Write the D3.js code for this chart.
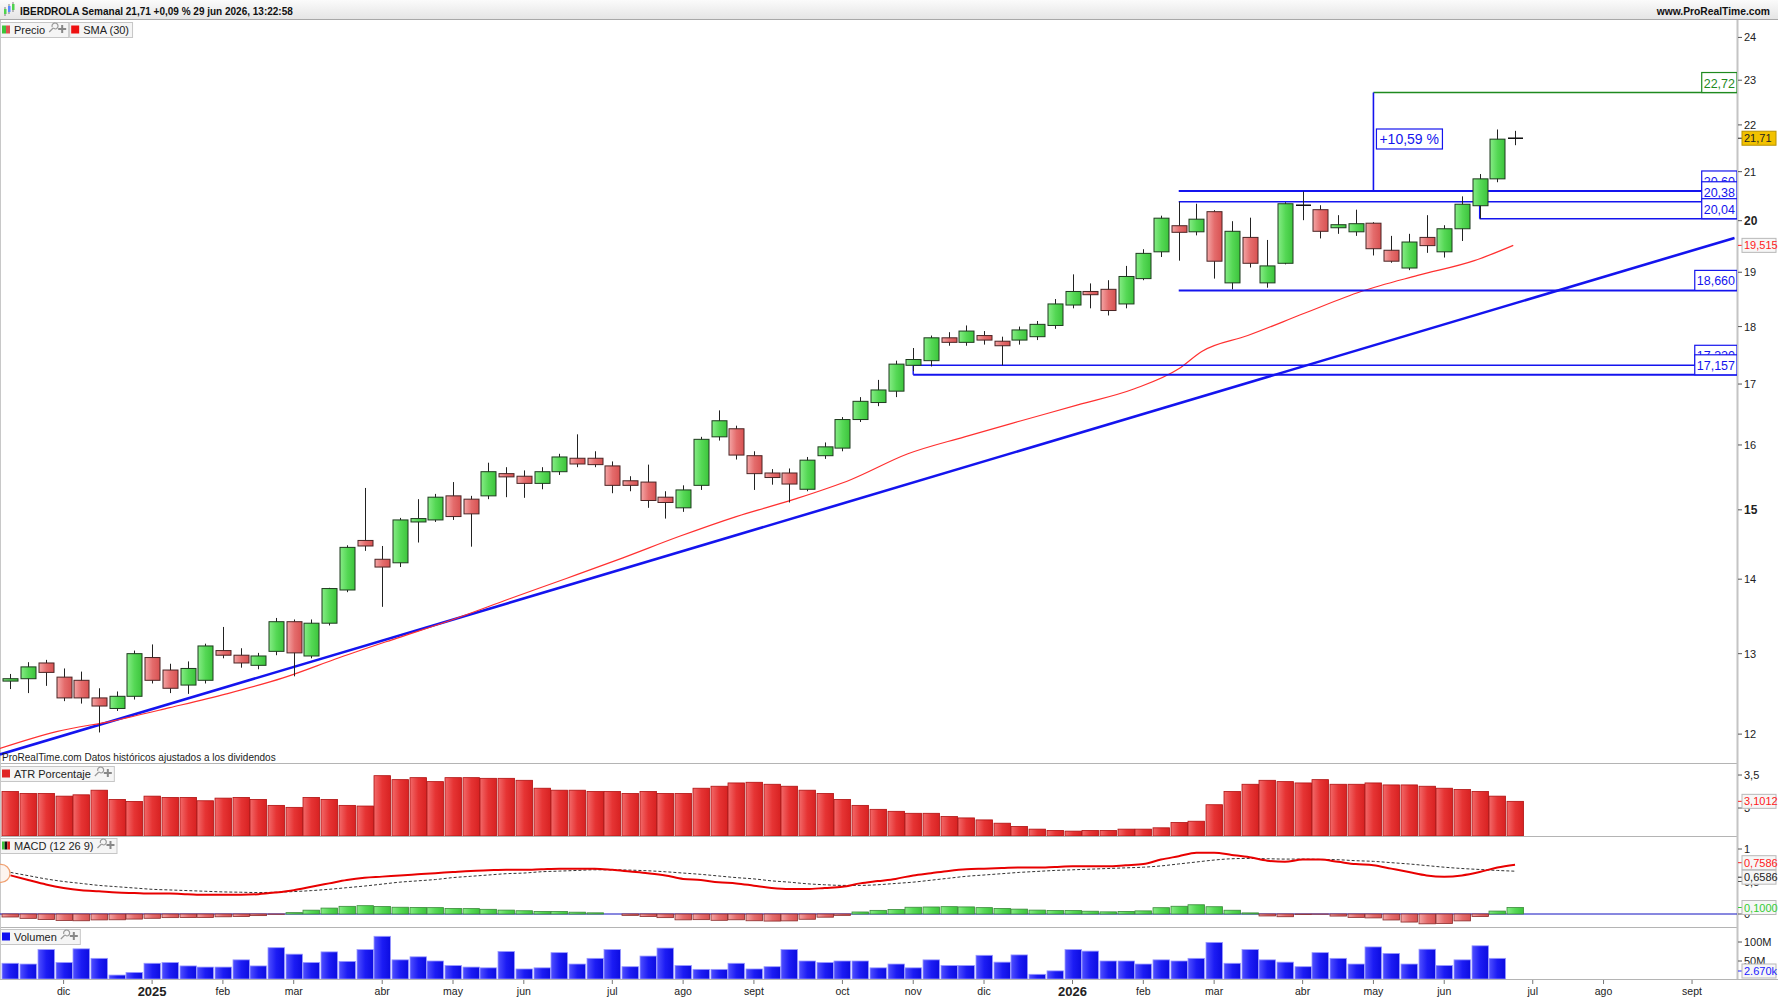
<!DOCTYPE html>
<html>
<head>
<meta charset="utf-8">
<script src="https://cdn.jsdelivr.net/npm/d3@7"></script>
<style>
body { margin: 0; background: #fff; }
svg { display: block; font-family: "Liberation Sans", Arial, sans-serif; }
</style>
</head>
<body>
<div id="chart"></div>
<script>
// ---- data (weekly bars, first bar = week of 11 nov 2024) ----
const startDate = new Date(2024, 10, 11);
const monthNames = ["ene", "feb", "mar", "abr", "may", "jun", "jul", "ago", "sept", "oct", "nov", "dic"];

const open = [12.65, 12.68, 12.88, 12.70, 12.66, 12.44, 12.31, 12.46, 12.95, 12.79,
	12.60, 12.66, 13.04, 12.98, 12.85, 13.03, 13.42, 12.97, 13.40, 13.85,
	14.55, 14.28, 14.23, 14.82, 14.85, 15.21, 15.16, 15.21, 15.55, 15.51,
	15.40, 15.58, 15.79, 15.79, 15.67, 15.44, 15.42, 15.19, 15.03, 15.37,
	16.13, 16.26, 15.83, 15.56, 15.56, 15.31, 15.83, 15.95, 16.41, 16.69,
	16.88, 17.32, 17.40, 17.80, 17.72, 17.84, 17.74, 17.76, 17.82, 18.02,
	18.39, 18.64, 18.68, 18.41, 18.88, 19.39, 19.90, 19.78, 20.18, 18.80,
	19.67, 18.80, 19.17, 20.32, 20.22, 19.86, 19.78, 19.95, 19.42, 19.08,
	19.67, 19.39, 19.84, 20.30, 20.85, 21.70];
const high = [12.74, 12.89, 12.92, 12.81, 12.77, 12.56, 12.52, 13.04, 13.12, 12.87,
	12.90, 13.13, 13.35, 13.07, 13.01, 13.47, 13.45, 13.45, 13.88, 14.48,
	15.33, 14.47, 14.88, 15.16, 15.24, 15.42, 15.21, 15.72, 15.65, 15.60,
	15.65, 15.86, 16.17, 15.90, 15.74, 15.51, 15.69, 15.28, 15.37, 16.13,
	16.56, 16.31, 15.90, 15.62, 15.63, 15.81, 16.04, 16.45, 16.78, 17.07,
	17.40, 17.62, 17.84, 17.90, 18.02, 17.92, 17.82, 18.00, 18.10, 18.50,
	18.96, 18.79, 18.85, 19.12, 19.44, 20.10, 20.38, 20.34, 20.21, 19.99,
	20.06, 19.62, 20.37, 20.59, 20.31, 20.11, 20.22, 19.97, 19.70, 19.74,
	20.11, 19.91, 20.49, 20.95, 21.90, 21.87];
const low = [12.55, 12.50, 12.59, 12.40, 12.37, 12.02, 12.28, 12.42, 12.62, 12.50,
	12.49, 12.62, 12.94, 12.82, 12.80, 12.98, 12.71, 12.94, 13.37, 13.82,
	14.40, 13.62, 14.17, 14.52, 14.82, 14.85, 14.46, 15.16, 15.19, 15.18,
	15.31, 15.53, 15.65, 15.65, 15.25, 15.28, 15.03, 14.87, 14.97, 15.30,
	16.07, 15.77, 15.30, 15.38, 15.11, 15.28, 15.78, 15.90, 16.37, 16.63,
	16.78, 17.22, 17.30, 17.66, 17.66, 17.68, 17.32, 17.68, 17.76, 17.96,
	18.33, 18.33, 18.20, 18.33, 18.85, 19.29, 19.22, 19.71, 18.88, 18.68,
	19.09, 18.71, 19.15, 20.01, 19.65, 19.74, 19.70, 19.32, 19.18, 19.04,
	19.37, 19.28, 19.60, 20.04, 20.78, 21.56];
const close = [12.68, 12.83, 12.76, 12.44, 12.44, 12.34, 12.46, 13.00, 12.66, 12.56,
	12.81, 13.10, 12.98, 12.88, 12.97, 13.42, 13.01, 13.40, 13.87, 14.45,
	14.47, 14.17, 14.85, 14.87, 15.19, 14.90, 14.94, 15.58, 15.50, 15.40,
	15.58, 15.81, 15.70, 15.69, 15.37, 15.37, 15.14, 15.11, 15.30, 16.09,
	16.39, 15.84, 15.55, 15.49, 15.39, 15.76, 15.97, 16.41, 16.71, 16.90,
	17.34, 17.42, 17.80, 17.72, 17.92, 17.76, 17.66, 17.94, 18.04, 18.41,
	18.64, 18.58, 18.29, 18.92, 19.36, 20.05, 19.77, 20.03, 19.21, 19.79,
	19.17, 19.12, 20.34, 20.31, 19.79, 19.92, 19.94, 19.45, 19.21, 19.58,
	19.51, 19.84, 20.33, 20.85, 21.69, 21.71];

// SMA(30) at a few bar positions
const smaIdx = [-0.6, 2.6, 5.8, 9.0, 12.2, 15.4, 18.6, 21.8, 25.0, 28.2, 31.4, 34.6, 37.8, 41.0, 44.3,
	47.5, 50.7, 53.9, 57.1, 60.3, 63.5, 66.0, 67.3, 69.9, 73.1, 76.3, 79.5, 82.7, 84.9];
const smaVal = [11.83, 12.03, 12.16, 12.32, 12.49, 12.69, 12.95, 13.20, 13.45, 13.73, 14.01, 14.30, 14.61, 14.90, 15.16,
	15.46, 15.86, 16.13, 16.39, 16.65, 16.92, 17.26, 17.56, 17.84, 18.24, 18.64, 18.94, 19.22, 19.515];

// drawn objects
const trendIdx = [-0.6, 97.4];
const trendVal = [11.76, 19.66];
const levelValues = [22.72, 20.60, 20.38, 20.04, 18.66, 17.32, 17.157];
const levelLabels = ["22,72", "20,60", "20,38", "20,04", "18,660", "17,320", "17,157"];
const levelStart = [77, 66, 66, 83, 66, 51, 51];
const moveLabel = "+10,59 %";

const atr = [3.25, 3.22, 3.22, 3.18, 3.20, 3.27, 3.13, 3.10, 3.18, 3.16,
	3.16, 3.11, 3.15, 3.16, 3.13, 3.04, 3.01, 3.16, 3.13, 3.04,
	3.03, 3.49, 3.43, 3.46, 3.40, 3.46, 3.46, 3.45, 3.45, 3.42,
	3.30, 3.27, 3.27, 3.25, 3.25, 3.22, 3.25, 3.22, 3.22, 3.30,
	3.33, 3.38, 3.39, 3.36, 3.33, 3.27, 3.22, 3.13, 3.04, 2.98,
	2.95, 2.92, 2.92, 2.87, 2.85, 2.82, 2.77, 2.72, 2.68, 2.66,
	2.65, 2.66, 2.66, 2.68, 2.68, 2.70, 2.78, 2.80, 3.05, 3.25,
	3.36, 3.42, 3.40, 3.38, 3.43, 3.36, 3.36, 3.38, 3.35, 3.35,
	3.33, 3.30, 3.28, 3.25, 3.18, 3.1012];

const macd = [0.594, 0.523, 0.454, 0.401, 0.366, 0.349, 0.331, 0.322, 0.314, 0.314,
	0.305, 0.297, 0.297, 0.297, 0.305, 0.331, 0.366, 0.419, 0.471, 0.523,
	0.558, 0.575, 0.594, 0.611, 0.628, 0.646, 0.663, 0.672, 0.680, 0.680,
	0.689, 0.698, 0.698, 0.698, 0.680, 0.654, 0.628, 0.594, 0.540, 0.523,
	0.488, 0.471, 0.436, 0.401, 0.384, 0.384, 0.401, 0.419, 0.471, 0.506,
	0.540, 0.594, 0.628, 0.663, 0.689, 0.698, 0.706, 0.715, 0.715, 0.724,
	0.733, 0.733, 0.733, 0.750, 0.768, 0.837, 0.889, 0.942, 0.942, 0.908,
	0.872, 0.820, 0.803, 0.837, 0.837, 0.803, 0.768, 0.750, 0.698, 0.646,
	0.594, 0.575, 0.594, 0.646, 0.715, 0.7586];
const signal = [0.64, 0.59, 0.54, 0.50, 0.47, 0.44, 0.42, 0.40, 0.38, 0.37,
	0.36, 0.35, 0.34, 0.335, 0.33, 0.335, 0.345, 0.36, 0.38, 0.405,
	0.43, 0.46, 0.49, 0.51, 0.53, 0.56, 0.58, 0.60, 0.62, 0.63,
	0.65, 0.66, 0.67, 0.68, 0.68, 0.675, 0.665, 0.65, 0.63, 0.61,
	0.585, 0.56, 0.54, 0.51, 0.49, 0.465, 0.45, 0.44, 0.44, 0.45,
	0.47, 0.49, 0.52, 0.55, 0.58, 0.60, 0.62, 0.64, 0.655, 0.67,
	0.68, 0.69, 0.70, 0.71, 0.72, 0.74, 0.77, 0.80, 0.83, 0.85,
	0.855, 0.85, 0.845, 0.845, 0.84, 0.835, 0.82, 0.81, 0.79, 0.77,
	0.745, 0.72, 0.70, 0.685, 0.67, 0.6586];

const volume = [44e6, 42e6, 80e6, 46e6, 82e6, 57e6, 13e6, 20e6, 44e6, 46e6,
	37e6, 34e6, 34e6, 53e6, 37e6, 85e6, 68e6, 46e6, 74e6, 49e6,
	80e6, 115e6, 53e6, 61e6, 50e6, 38e6, 34e6, 32e6, 75e6, 29e6,
	32e6, 72e6, 42e6, 57e6, 80e6, 35e6, 63e6, 84e6, 38e6, 28e6,
	28e6, 44e6, 29e6, 35e6, 80e6, 50e6, 46e6, 50e6, 50e6, 32e6,
	42e6, 32e6, 53e6, 38e6, 38e6, 65e6, 47e6, 66e6, 15e6, 24e6,
	80e6, 76e6, 50e6, 50e6, 42e6, 53e6, 50e6, 57e6, 99e6, 44e6,
	80e6, 53e6, 47e6, 35e6, 72e6, 57e6, 42e6, 87e6, 70e6, 42e6,
	81e6, 38e6, 53e6, 90e6, 57e6, 2670];

const priceTicks = [12, 13, 14, 15, 16, 17, 18, 19, 20, 21, 22, 23, 24];
const atrTicks = [3, 3.5];
const macdTicks = [0, 0.5, 1];
const volTicks = [50e6, 100e6];

// ---- layout ----
const W = 1778, H = 1000;
const axisX = 1737;
const nBars = 98;
const pricePanel = [20, 763], atrPanel = [764, 836], macdPanel = [836, 927], volPanel = [927, 979];
const blue = "#1414ee";

const x = d3.scaleLinear().domain([-0.593, 97.54]).range([0, axisX]);
const y = d3.scaleLog().domain([11.66, 24.42]).range([pricePanel[1], pricePanel[0]]);
const yAtr = d3.scaleLinear().domain([2.576, 3.667]).range([atrPanel[1], atrPanel[0]]);
const yMacd = d3.scaleLinear().domain([-0.2, 1.2]).range([macdPanel[1], macdPanel[0]]);
const yVol = d3.scaleLinear().domain([0, 100e6]).range([980, 942]);
const fmt = (v, d) => v.toFixed(d).replace(".", ",");

const svg = d3.select("#chart").append("svg").attr("width", W).attr("height", H);
const defs = svg.append("defs");
function grad(id, colors, vertical) {
	const g = defs.append("linearGradient").attr("id", id)
		.attr("x1", 0).attr("y1", 0).attr("x2", vertical ? 0 : 1).attr("y2", vertical ? 1 : 0);
	colors.forEach((c, i) => g.append("stop").attr("offset", i / (colors.length - 1)).attr("stop-color", c));
}
grad("gUp", ["#86ec86", "#55d855", "#3cc43c"]);
grad("gDown", ["#f4a6a6", "#e46c6c", "#d85252"]);
grad("gAtr", ["#f26a6a", "#e63434", "#d82222"]);
grad("gVol", ["#5050ff", "#1c1cf4", "#0c0ce0"]);
grad("gHead", ["#fbfbfb", "#e4e4e4"], true);
[["cPrice", pricePanel], ["cAtr", atrPanel], ["cMacd", macdPanel], ["cVol", volPanel]].forEach(([id, p]) =>
	defs.append("clipPath").attr("id", id).append("rect")
		.attr("x", 0).attr("y", p[0]).attr("width", axisX).attr("height", p[1] - p[0]));

const bars = open.map((o, i) => ({i, o, h: high[i], l: low[i], c: close[i]}));
const bw = 15;

// ---- frame ----
svg.append("rect").attr("width", W).attr("height", 20).attr("fill", "url(#gHead)");
svg.append("line").attr("x1", 0).attr("x2", W).attr("y1", 19.5).attr("y2", 19.5).attr("stroke", "#a8a8a8");
[pricePanel[1], atrPanel[1], macdPanel[1]].forEach(v =>
	svg.append("line").attr("x1", 0).attr("x2", axisX).attr("y1", v + 0.5).attr("y2", v + 0.5).attr("stroke", "#b4b4b4"));
svg.append("line").attr("x1", 0).attr("x2", W).attr("y1", volPanel[1] + 0.5).attr("y2", volPanel[1] + 0.5).attr("stroke", "#b4b4b4");
svg.append("line").attr("x1", axisX + 0.5).attr("x2", axisX + 0.5).attr("y1", 20).attr("y2", volPanel[1]).attr("stroke", "#c4c4c4").attr("stroke-width", 2);
svg.append("line").attr("x1", 0.5).attr("x2", 0.5).attr("y1", 20).attr("y2", volPanel[1]).attr("stroke", "#c8c8c8");

// header
const icon = svg.append("g");
[[4, 8, 14, "#4fd24f"], [8, 5, 12, "#5a8cff"], [12, 3, 10, "#4fd24f"]].forEach(([cx, t, b, c]) => {
	icon.append("line").attr("x1", cx + 1).attr("x2", cx + 1).attr("y1", t - 1).attr("y2", b + 2).attr("stroke", "#333").attr("stroke-width", 0.6);
	icon.append("rect").attr("x", cx).attr("y", t + 1).attr("width", 2.5).attr("height", b - t - 1).attr("fill", c);
});
svg.append("text").attr("x", 20).attr("y", 14.5).attr("font-size", 10).attr("font-weight", "bold").attr("fill", "#111")
	.text("IBERDROLA Semanal 21,71 +0,09 % 29 jun 2026, 13:22:58");
svg.append("text").attr("x", 1770).attr("y", 14.5).attr("font-size", 10.3).attr("font-weight", "bold").attr("fill", "#111")
	.attr("text-anchor", "end").text("www.ProRealTime.com");

// ---- price panel ----
const gp = svg.append("g").attr("clip-path", "url(#cPrice)");

// trend line
gp.append("line")
	.attr("x1", x(trendIdx[0])).attr("y1", y(trendVal[0]))
	.attr("x2", x(trendIdx[1])).attr("y2", y(trendVal[1]))
	.attr("stroke", blue).attr("stroke-width", 2.6);

// SMA 30
gp.append("path")
	.datum(smaIdx.map((d, k) => [d, smaVal[k]]))
	.attr("d", d3.line().x(d => x(d[0])).y(d => y(d[1])).curve(d3.curveMonotoneX))
	.attr("fill", "none").attr("stroke", "#ff3030").attr("stroke-width", 1.2);

// horizontal levels
levelValues.forEach((v, k) => {
	const col = k === 0 ? "#1f8a1f" : blue;
	const sw = (k === 1 || k === 4 || k === 6) ? 2 : 1.4;
	gp.append("line").attr("x1", x(levelStart[k])).attr("x2", axisX)
		.attr("y1", y(v)).attr("y2", y(v)).attr("stroke", col).attr("stroke-width", sw);
});
// connectors of the measure tool / channel
gp.append("line").attr("x1", x(levelStart[0])).attr("x2", x(levelStart[0]))
	.attr("y1", y(levelValues[1])).attr("y2", y(levelValues[0])).attr("stroke", blue).attr("stroke-width", 1.6);
gp.append("line").attr("x1", x(levelStart[3])).attr("x2", x(levelStart[3]))
	.attr("y1", y(levelValues[2])).attr("y2", y(levelValues[3])).attr("stroke", blue).attr("stroke-width", 1.4);
gp.append("line").attr("x1", x(levelStart[5])).attr("x2", x(levelStart[5]))
	.attr("y1", y(levelValues[5])).attr("y2", y(levelValues[6])).attr("stroke", blue).attr("stroke-width", 1.4);

// candles
const cg = gp.append("g").selectAll("g").data(bars).join("g");
cg.append("line")
	.attr("x1", d => Math.round(x(d.i)) + 0.5).attr("x2", d => Math.round(x(d.i)) + 0.5)
	.attr("y1", d => y(d.h)).attr("y2", d => y(d.l))
	.attr("stroke", "#222").attr("stroke-width", 1);
cg.filter(d => Math.abs(y(d.o) - y(d.c)) >= 1.5).append("rect")
	.attr("x", d => Math.round(x(d.i)) - 7)
	.attr("y", d => y(Math.max(d.o, d.c)))
	.attr("width", bw)
	.attr("height", d => y(Math.min(d.o, d.c)) - y(Math.max(d.o, d.c)))
	.attr("fill", d => d.c >= d.o ? "url(#gUp)" : "url(#gDown)")
	.attr("stroke", d => d.c >= d.o ? "#1e3a1e" : "#4a2424").attr("stroke-width", 1);
cg.filter(d => Math.abs(y(d.o) - y(d.c)) < 1.5).append("line")
	.attr("x1", d => Math.round(x(d.i)) - 7).attr("x2", d => Math.round(x(d.i)) + 8)
	.attr("y1", d => y(d.c)).attr("y2", d => y(d.c))
	.attr("stroke", "#111").attr("stroke-width", 1.5);

// measure label
const mx = x(levelStart[0]) + 3, my = 129;
gp.append("rect").attr("x", mx).attr("y", my).attr("width", 66).attr("height", 20)
	.attr("fill", "#fff").attr("stroke", blue).attr("stroke-width", 1.2);
gp.append("text").attr("x", mx + 3).attr("y", my + 15).attr("font-size", 14).attr("fill", blue).text(moveLabel);

// level labels next to the axis
levelValues.forEach((v, k) => {
	const col = k === 0 ? "#1f8a1f" : blue;
	const box = gp.append("rect").attr("y", y(v) - 20).attr("height", 20)
		.attr("fill", "#fff").attr("stroke", col).attr("stroke-width", 1.2);
	const t = gp.append("text").attr("y", y(v) - 5).attr("font-size", 12.5).attr("fill", col)
		.text(levelLabels[k]);
	const w = t.node().getComputedTextLength() + 4;
	box.attr("x", axisX - w).attr("width", w);
	t.attr("x", axisX - w + 2);
});

// price axis
const ax = svg.append("g");
priceTicks.forEach(t => {
	ax.append("line").attr("x1", axisX + 1).attr("x2", axisX + 5).attr("y1", y(t)).attr("y2", y(t)).attr("stroke", "#555");
	ax.append("text").attr("x", axisX + 7).attr("y", y(t) + 4).attr("font-size", t % 5 === 0 ? 12 : 11)
		.attr("font-weight", t % 5 === 0 ? "bold" : "normal").attr("fill", "#222").text(t);
});
function tag(yy, text, fg, bg, border) {
	ax.append("line").attr("x1", axisX + 1).attr("x2", axisX + 5).attr("y1", yy).attr("y2", yy).attr("stroke", fg);
	ax.append("rect").attr("x", axisX + 5).attr("y", yy - 7).attr("width", 34).attr("height", 14)
		.attr("fill", bg).attr("stroke", border);
	ax.append("text").attr("x", axisX + 7).attr("y", yy + 4).attr("font-size", 11).attr("fill", fg).text(text);
}
tag(y(close[close.length - 1]), fmt(close[close.length - 1], 2), "#222", "#f2c200", "#b89200");
tag(y(smaVal[smaVal.length - 1]), fmt(smaVal[smaVal.length - 1], 3), "#ff2020", "#f6f6f6", "#b8b8b8");

svg.append("text").attr("x", 2).attr("y", 761).attr("font-size", 10).attr("fill", "#222")
	.text("ProRealTime.com Datos históricos ajustados a los dividendos");

// ---- ATR panel ----
svg.append("g").attr("clip-path", "url(#cAtr)").selectAll("rect").data(atr).join("rect")
	.attr("x", (d, i) => Math.round(x(i)) - 8).attr("y", d => yAtr(d))
	.attr("width", 16.5).attr("height", d => atrPanel[1] - yAtr(d))
	.attr("fill", "url(#gAtr)").attr("stroke", "#b01010").attr("stroke-width", 0.8);
atrTicks.forEach(t => {
	ax.append("line").attr("x1", axisX + 1).attr("x2", axisX + 5).attr("y1", yAtr(t)).attr("y2", yAtr(t)).attr("stroke", "#555");
	ax.append("text").attr("x", axisX + 7).attr("y", yAtr(t) + 4).attr("font-size", 11).attr("fill", "#222").text(fmt(t, t % 1 ? 1 : 0));
});
tag(yAtr(atr[atr.length - 1]), fmt(atr[atr.length - 1], 4), "#ff2020", "#f6f6f6", "#b8b8b8");

// ---- MACD panel ----
const gm = svg.append("g").attr("clip-path", "url(#cMacd)");
gm.append("line").attr("x1", 0).attr("x2", axisX).attr("y1", yMacd(0)).attr("y2", yMacd(0)).attr("stroke", "#1010c0");
gm.selectAll("rect").data(macd).join("rect")
	.attr("x", (d, i) => Math.round(x(i)) - 8)
	.attr("y", (d, i) => yMacd(Math.max(0, d - signal[i])))
	.attr("width", 16.5)
	.attr("height", (d, i) => Math.abs(yMacd(d - signal[i]) - yMacd(0)))
	.attr("fill", (d, i) => d - signal[i] >= 0 ? "url(#gUp)" : "url(#gDown)")
	.attr("stroke", (d, i) => d - signal[i] >= 0 ? "#3a8a3a" : "#8a2a2a").attr("stroke-width", 0.8);
const mline = d3.line().x((d, i) => x(i)).y(d => yMacd(d)).curve(d3.curveMonotoneX);
gm.append("path").datum(signal).attr("d", mline).attr("fill", "none")
	.attr("stroke", "#333").attr("stroke-width", 1).attr("stroke-dasharray", "3,2");
gm.append("path").datum(macd).attr("d", mline).attr("fill", "none")
	.attr("stroke", "#e80000").attr("stroke-width", 2);
gm.append("circle").attr("cx", 1).attr("cy", yMacd(macd[0]) - 2).attr("r", 9)
	.attr("fill", "#fbe9e0").attr("fill-opacity", 0.5).attr("stroke", "#f0a070").attr("stroke-width", 1.2);
macdTicks.forEach(t => {
	ax.append("line").attr("x1", axisX + 1).attr("x2", axisX + 5).attr("y1", yMacd(t)).attr("y2", yMacd(t)).attr("stroke", "#555");
	ax.append("text").attr("x", axisX + 7).attr("y", yMacd(t) + 4).attr("font-size", 11).attr("fill", "#222").text(fmt(t, t % 1 ? 1 : 0));
});
const lastM = macd[macd.length - 1], lastS = signal[signal.length - 1];
tag(yMacd(lastM) - 2, fmt(lastM, 4), "#ff2020", "#f6f6f6", "#b8b8b8");
tag(yMacd(lastS) + 6, fmt(lastS, 4), "#222", "#f6f6f6", "#b8b8b8");
tag(yMacd(lastM - lastS), fmt(lastM - lastS, 4), "#33cc33", "#f6f6f6", "#b8b8b8");

// ---- volume panel ----
svg.append("g").attr("clip-path", "url(#cVol)").selectAll("rect").data(volume).join("rect")
	.attr("x", (d, i) => Math.round(x(i)) - 8).attr("y", d => yVol(d))
	.attr("width", 16.5).attr("height", d => Math.max(1, volPanel[1] - yVol(d)))
	.attr("fill", "url(#gVol)").attr("stroke", "#9a9aff").attr("stroke-width", 0.8);
volTicks.forEach(t => {
	ax.append("line").attr("x1", axisX + 1).attr("x2", axisX + 5).attr("y1", yVol(t)).attr("y2", yVol(t)).attr("stroke", "#555");
	ax.append("text").attr("x", axisX + 7).attr("y", yVol(t) + 4).attr("font-size", 11).attr("fill", "#222").text(t / 1e6 + "M");
});
tag(971, "2.670k", "#2020ff", "#f6f6f6", "#b8b8b8");

// ---- time axis ----
for (let i = 0; i < nBars; i++) {
	const d = d3.timeDay.offset(startDate, 7 * i), p = d3.timeDay.offset(startDate, 7 * (i - 1));
	if (d.getMonth() === p.getMonth()) continue;
	const isYear = d.getMonth() === 0;
	svg.append("line").attr("x1", x(i)).attr("x2", x(i)).attr("y1", 980).attr("y2", 984).attr("stroke", "#777");
	svg.append("text").attr("x", x(i)).attr("y", isYear ? 996 : 995).attr("text-anchor", "middle")
		.attr("font-size", isYear ? 13 : 10.5).attr("font-weight", isYear ? "bold" : "normal").attr("fill", "#222")
		.text(isYear ? d.getFullYear() : monthNames[d.getMonth()]);
}

// ---- legends ----
function tools(x0, y0) {
	const g = svg.append("g").attr("transform", `translate(${x0},${y0})`);
	g.append("path").attr("d", "M1,10 L5,6 M4,5 A3,3 0 1 1 7,7 L5,6").attr("fill", "none").attr("stroke", "#999").attr("stroke-width", 1.2);
	g.append("path").attr("d", "M13,3 h2 v3 h3 v2 h-3 v3 h-2 v-3 h-3 v-2 h3 z").attr("fill", "#888");
	return 20;
}
function legend(x0, y0, label, colors, withTools) {
	const box = svg.append("rect").attr("x", x0 + 0.5).attr("y", y0 + 0.5).attr("height", 15)
		.attr("fill", "#f5f5f5").attr("stroke", "#c6c6c6");
	const sw = 8 / colors.length;
	colors.forEach((c, k) => svg.append("rect").attr("x", x0 + 2 + k * sw).attr("y", y0 + 3.5)
		.attr("width", sw).attr("height", 8).attr("fill", c));
	const t = svg.append("text").attr("x", x0 + 14).attr("y", y0 + 12).attr("font-size", 11).attr("fill", "#222").text(label);
	let w = 14 + t.node().getComputedTextLength() + 3;
	if (withTools) w += tools(x0 + w, y0);
	box.attr("width", w);
	return w;
}
const pw = legend(0, 22, "Precio", ["#3cc43c", "#e05050"], true);
legend(pw + 1, 22, "SMA (30)", ["#ee1111"], false);
legend(0, 766, "ATR Porcentaje", ["#e02424"], true);
legend(0, 838, "MACD (12 26 9)", ["#3cc43c", "#111", "#e02424"], true);
legend(0, 929, "Volumen", ["#1010f0"], true);
</script>
</body>
</html>
